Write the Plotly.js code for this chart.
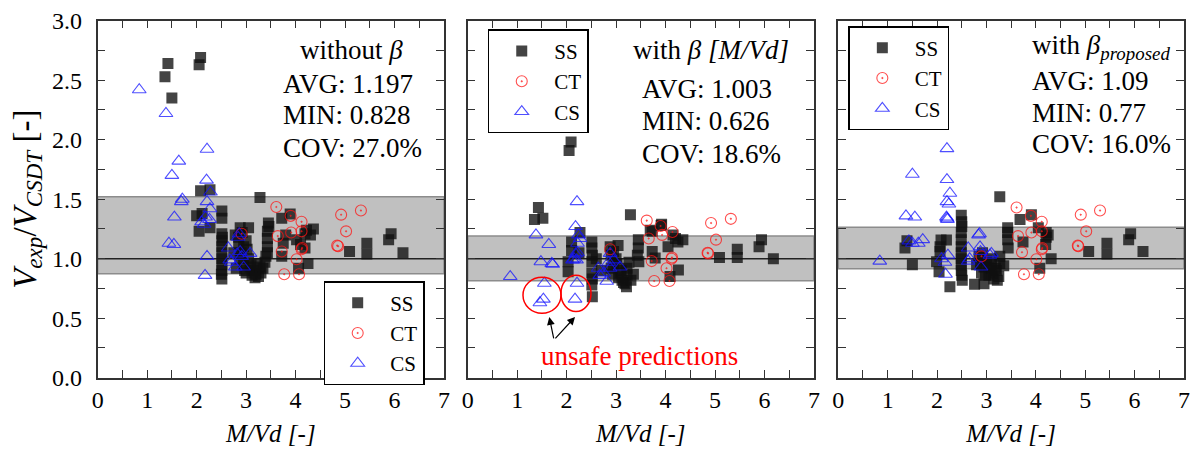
<!DOCTYPE html>
<html>
<head>
<meta charset="utf-8">
<script src="https://cdn.plot.ly/plotly-3.0.1.min.js"></script>
<style>
html,body{margin:0;padding:0;background:#fff}
#chart{width:1194px;height:457px}
</style>
</head>
<body>
<div id="chart"></div>
<script>
// ---------- data ----------
const seriesNames = ["SS", "CT", "CS"];
const panelTitles = ["without <i>β</i>", "with <i>β [M/Vd]</i>", "with <i>β</i><sub><i>proposed</i></sub>"];
const statAVG = ["AVG: 1.197", "AVG: 1.003", "AVG: 1.09"];
const statMIN = ["MIN: 0.828", "MIN: 0.626", "MIN: 0.77"];
const statCOV = ["COV: 27.0%", "COV: 18.6%", "COV: 16.0%"];
const bandLow = [0.874, 0.815, 0.916];
const bandHigh = [1.52, 1.19, 1.264];

// Panel 1 : without beta
const ss1x = [1.42,2.08,2.05,1.36,1.50,2.08,2.27,2.11,2.00,2.27,2.05,2.51,2.51,2.51,2.51,2.51,2.51,2.51,2.51,2.51,2.51,3.28,2.88,3.05,2.85,2.95,2.90,2.88,2.95,3.05,3.10,3.15,3.20,3.25,3.30,3.34,3.38,3.40,3.43,3.43,3.43,3.45,3.72,3.89,3.75,3.72,3.80,4.02,4.10,4.19,4.22,4.30,4.36,4.19,4.25,4.06,5.09,5.44,5.44,5.93,5.88,6.17,2.78,2.80,3.00,2.75,2.85,2.92,3.00,3.02,2.97,3.08,3.12,3.18,3.28,3.22,2.52,2.50,3.43,3.46];
const ss1y = [2.64,2.69,2.63,2.53,2.35,1.57,1.58,1.38,1.36,1.26,1.23,1.40,1.34,1.21,1.15,1.10,1.05,1.00,0.95,0.90,0.83,1.515,1.26,1.26,1.18,1.10,1.05,1.00,0.95,1.00,0.95,0.90,0.87,0.85,0.88,0.92,0.97,1.02,1.10,1.17,1.23,1.30,1.34,1.375,1.13,1.02,1.20,1.16,1.12,1.21,1.24,1.20,1.25,1.09,0.96,0.92,1.06,1.13,1.04,1.21,1.16,1.05,1.20,0.92,0.88,1.05,1.12,1.22,1.15,1.08,0.90,0.93,0.86,0.84,0.93,0.96,1.18,0.87,1.05,1.27];
const ct1x = [3.61,3.90,4.12,3.64,3.91,4.12,4.12,4.13,3.72,4.02,3.77,4.07,4.92,5.32,5.02,4.84,4.86,2.91];
const ct1y = [1.435,1.36,1.31,1.19,1.22,1.23,1.08,1.09,1.06,0.995,0.87,0.87,1.37,1.405,1.23,1.11,1.105,1.21];
const cs1x = [0.84,1.38,2.21,1.64,1.50,2.20,2.28,1.71,1.69,2.21,2.27,1.55,2.10,2.26,2.18,2.15,1.44,1.54,2.21,2.17,2.86,2.64,2.67,2.84,2.88,3.08,2.78,2.82,2.91,2.70,2.95];
const cs1y = [2.42,2.22,1.92,1.82,1.70,1.66,1.56,1.50,1.48,1.48,1.42,1.35,1.31,1.33,1.35,1.29,1.13,1.12,1.02,0.86,1.21,1.09,0.99,1.18,1.06,1.045,0.93,1.04,1.02,0.97,0.93];

// Panel 2 : with beta [M/Vd]
const ss2x = [2.09,2.05,1.43,1.35,1.52,3.29,3.91,3.69,2.10,2.27,2.51,2.51,2.03,2.03,2.51,2.51,2.51,2.52,2.88,3.04,2.90,2.95,2.93,3.05,3.22,3.22,3.21,3.15,3.10,3.30,3.45,3.45,3.43,3.46,3.73,3.73,3.92,4.20,4.25,4.35,4.26,4.09,3.79,4.05,4.15,5.94,5.89,5.45,5.45,5.09,6.18,2.25,2.10,2.60,2.70,3.00,2.95,3.02,3.08,3.12,3.18,3.26,2.52,2.52,2.90,3.35];
const ss2y = [1.98,1.91,1.43,1.33,1.34,1.37,1.28,1.24,1.14,1.22,1.14,1.09,0.975,0.89,0.975,0.88,0.78,0.68,1.10,1.11,1.03,0.95,0.87,0.84,0.92,0.86,0.765,0.80,0.90,0.82,1.16,1.09,1.03,0.975,1.23,1.06,1.29,1.17,1.14,1.16,0.905,0.85,1.006,1.10,1.20,1.16,1.10,1.08,1.01,1.01,1.00,1.05,1.07,1.00,0.90,1.00,1.06,0.96,0.88,0.82,0.79,0.97,1.03,0.83,0.92,0.87];
const ct2x = [3.62,3.90,4.14,3.66,3.93,4.12,4.13,3.72,4.02,3.77,4.08,4.92,5.32,5.02,4.85,4.86,2.88];
const ct2y = [1.32,1.275,1.225,1.17,1.20,1.00,1.01,0.98,0.92,0.813,0.813,1.30,1.335,1.16,1.05,1.045,1.08];
const cs2x = [2.21,2.18,1.38,1.64,1.48,1.72,1.70,0.86,1.55,1.53,1.46,2.21,2.17,2.22,2.22,2.20,2.15,2.24,2.64,2.67,2.88,2.88,3.08,2.81,2.85,2.75,2.95,2.18,2.27,2.12];
const cs2y = [1.48,1.27,1.20,1.12,0.975,0.953,0.96,0.85,0.794,0.66,0.63,0.794,0.66,1.13,1.05,0.99,1.00,1.20,0.92,0.86,1.045,0.92,0.93,0.81,0.97,0.88,0.99,1.04,1.17,0.99];

// Panel 3 : with beta proposed
const ss3x = [3.27,2.49,2.50,1.39,1.35,1.50,2.26,2.51,2.76,2.95,2.04,1.99,2.08,2.19,2.06,2.06,2.49,2.49,2.49,2.49,2.49,2.49,2.49,3.43,3.43,3.43,3.44,3.27,3.27,3.25,3.20,3.10,3.00,2.95,2.90,3.05,3.15,2.85,2.80,3.10,3.91,3.68,4.21,4.21,4.05,3.74,4.31,4.08,4.20,4.25,5.44,5.44,5.07,5.92,5.88,6.17,2.88,2.98,3.05,3.12,3.18,3.22,2.92,3.35,2.50,2.50];
const ss3y = [1.52,1.366,1.31,1.15,1.09,0.95,0.765,0.82,0.785,0.79,0.89,0.975,1.157,1.157,1.10,1.06,1.22,1.16,1.10,1.05,1.00,0.95,0.90,1.26,1.22,1.16,1.09,1.02,0.96,0.85,0.90,0.92,0.98,0.93,0.88,0.86,0.83,1.02,0.95,1.00,1.37,1.33,1.22,1.18,1.26,1.14,1.00,0.92,1.12,1.20,1.13,1.04,1.06,1.21,1.16,1.06,0.96,0.86,0.95,0.88,0.92,0.82,1.05,0.94,1.27,0.86];
const ct3x = [3.61,3.90,4.12,3.64,3.91,4.12,4.12,4.13,3.72,4.01,3.76,4.06,4.91,5.30,5.02,4.85,4.86,2.90];
const ct3y = [1.43,1.36,1.31,1.19,1.22,1.23,1.08,1.09,1.055,0.995,0.87,0.87,1.37,1.405,1.23,1.11,1.105,1.02];
const cs3x = [2.20,1.50,2.20,2.26,2.20,2.24,2.20,2.21,2.19,1.37,1.55,1.43,1.50,1.62,1.71,0.84,2.09,2.16,2.22,2.17,2.86,2.63,2.63,2.66,2.87,2.88,3.10,3.07,2.89,2.84];
const cs3y = [1.925,1.71,1.665,1.55,1.48,1.46,1.34,1.33,1.35,1.36,1.35,1.15,1.13,1.13,1.16,0.98,1.00,0.97,1.03,0.87,1.21,1.09,0.98,1.00,1.10,1.06,1.045,1.03,0.93,1.20];

// ---------- styling ----------
const FONT = "Liberation Serif";
const AX = "#333";
const panels = [
  {ss:[ss1x,ss1y], ct:[ct1x,ct1y], cs:[cs1x,cs1y]},
  {ss:[ss2x,ss2y], ct:[ct2x,ct2y], cs:[cs2x,cs2y]},
  {ss:[ss3x,ss3y], ct:[ct3x,ct3y], cs:[cs3x,cs3y]}
];
const markerStyles = [
  {symbol:"square", size:11, color:"rgba(15,15,15,0.78)", line:{width:0}},
  {symbol:"circle-open-dot", size:11, color:"rgba(255,20,20,0.75)", line:{width:1.1}},
  {symbol:"triangle-up-open", size:12, color:"rgba(20,20,255,0.75)", line:{width:1.1}}
];
const legendIds = ["legend", "legend2", "legend3"];
const axSuffix = ["", "2", "3"];

const traces = [];
panels.forEach((p, i) => {
  [p.ss, p.ct, p.cs].forEach((d, k) => {
    traces.push({
      type: "scatter", mode: "markers",
      x: d[0], y: d[1], name: seriesNames[k],
      xaxis: "x" + axSuffix[i], yaxis: "y" + axSuffix[i],
      legend: legendIds[i],
      marker: markerStyles[k]
    });
  });
});

const xDomains = [[0.0818, 0.3719], [0.3917, 0.6817], [0.7021, 0.9916]];
const yDomain = [0.1735, 0.9547];

const layout = {
  width: 1194, height: 457,
  margin: {l: 0, r: 0, t: 0, b: 0},
  paper_bgcolor: "#fff", plot_bgcolor: "#fff",
  font: {family: FONT, size: 22, color: "#000"},
  shapes: [], annotations: []
};

function xAxis(i) {
  return {
    domain: xDomains[i], anchor: "y" + axSuffix[i], range: [0, 7],
    dtick: 1, tick0: 0, ticks: "inside", ticklen: 8, tickwidth: 1.2, tickcolor: AX,
    minor: {dtick: 0.5, ticks: "inside", ticklen: 8, tickwidth: 1.2, tickcolor: AX},
    showline: true, linecolor: AX, linewidth: 1.5, mirror: "ticks",
    showgrid: false, zeroline: false,
    tickfont: {family: FONT, size: 24},
    title: {text: "<i>M/Vd [-]</i>", font: {family: FONT, size: 25}, standoff: 12}
  };
}
function yAxis(i) {
  return {
    domain: yDomain, anchor: "x" + axSuffix[i], range: [0, 3],
    dtick: 0.5, tick0: 0, tickformat: ".1f",
    ticks: "inside", ticklen: 8, tickwidth: 1.2, tickcolor: AX,
    minor: {dtick: 0.25, ticks: "inside", ticklen: 8, tickwidth: 1.2, tickcolor: AX},
    showline: true, linecolor: AX, linewidth: 1.5, mirror: "ticks",
    showgrid: false, zeroline: false,
    showticklabels: i === 0, ticklabelstandoff: 9,
    tickfont: {family: FONT, size: 24},
    title: i === 0 ? {text: "<i>V</i><sub><i>exp</i></sub>/<i>V</i><sub><i>CSDT</i></sub> [-]", font: {family: FONT, size: 33}, standoff: 6} : {text: ""}
  };
}
for (let i = 0; i < 3; i++) {
  layout["xaxis" + axSuffix[i]] = xAxis(i);
  layout["yaxis" + axSuffix[i]] = yAxis(i);
  const xr = "x" + axSuffix[i], yr = "y" + axSuffix[i];
  layout.shapes.push({type: "rect", xref: xr + " domain", yref: yr, x0: 0, x1: 1, y0: bandLow[i], y1: bandHigh[i],
    fillcolor: "#c0c0c0", line: {color: "#8c8c8c", width: 1.5}, layer: "below"});
  layout.shapes.push({type: "line", xref: xr + " domain", yref: yr, x0: 0, x1: 1, y0: 1, y1: 1,
    line: {color: "#222", width: 1.5}, layer: "below"});
}

// statistics text
const titlePos = [{x: 5.13, y: 2.75, a: "center"}, {x: 4.91, y: 2.75, a: "center"}, {x: 3.89, y: 2.775, a: "left"}];
const statX = [3.70, 3.48, 3.875];
const statY = [[2.47, 2.205, 1.928], [2.43, 2.157, 1.883], [2.49, 2.228, 1.961]];
for (let i = 0; i < 3; i++) {
  const xr = "x" + axSuffix[i], yr = "y" + axSuffix[i];
  layout.annotations.push({xref: xr, yref: yr, x: titlePos[i].x, y: titlePos[i].y, xanchor: titlePos[i].a, yanchor: "middle",
    text: panelTitles[i], showarrow: false, font: {family: FONT, size: 27}});
  [statAVG[i], statMIN[i], statCOV[i]].forEach((t, j) => {
    layout.annotations.push({xref: xr, yref: yr, x: statX[i], y: statY[i][j], xanchor: "left", yanchor: "middle",
      text: t, showarrow: false, font: {family: FONT, size: 27}});
  });
}

// unsafe predictions marks (panel 2)
layout.shapes.push({type: "circle", xref: "x2", yref: "y2", x0: 1.118, x1: 1.886, y0: 0.542, y1: 0.844, line: {color: "#f00", width: 1.5}});
layout.shapes.push({type: "circle", xref: "x2", yref: "y2", x0: 1.886, x1: 2.493, y0: 0.556, y1: 0.861, line: {color: "#f00", width: 1.5}});
layout.annotations.push({xref: "x2", yref: "y2", x: 3.48, y: 0.18, text: "unsafe predictions", showarrow: false,
  font: {family: FONT, size: 27, color: "#f00"}});
layout.annotations.push({xref: "x2", yref: "y2", axref: "x2", ayref: "y2", x: 1.65, y: 0.51, ax: 1.745, ay: 0.318,
  text: "", showarrow: true, arrowhead: 2, arrowsize: 1.3, arrowwidth: 1.2, arrowcolor: "#000"});
layout.annotations.push({xref: "x2", yref: "y2", axref: "x2", ayref: "y2", x: 2.17, y: 0.51, ax: 1.745, ay: 0.318,
  text: "", showarrow: true, arrowhead: 2, arrowsize: 1.3, arrowwidth: 1.2, arrowcolor: "#000"});

// legends
const legendBase = {xanchor: "left", yanchor: "top", bgcolor: "#fff", bordercolor: "#000", borderwidth: 1.5,
  font: {family: FONT, size: 21}, itemwidth: 55, tracegroupgap: 0};
layout.legend = Object.assign({}, legendBase, {x: 0.2711, y: 0.3851});
layout.legend2 = Object.assign({}, legendBase, {x: 0.4085, y: 0.9359});
layout.legend3 = Object.assign({}, legendBase, {x: 0.7105, y: 0.943});

const cfg = {displayModeBar: false};
Plotly.newPlot("chart", traces, layout, cfg);
if (document.fonts && document.fonts.ready) {
  document.fonts.ready.then(() => Plotly.react("chart", traces, layout, cfg));
}
</script>
</body>
</html>
